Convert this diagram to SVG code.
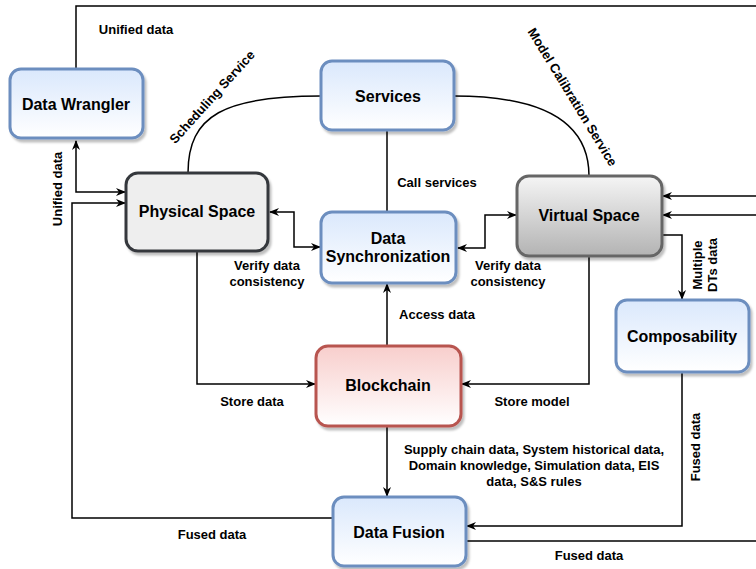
<svg xmlns="http://www.w3.org/2000/svg" width="756" height="569" viewBox="0 0 756 569">
<style>
.n{stroke-width:3}
.blue{fill:url(#gBlue);stroke:#6c8ebf}
.phys{fill:#eeeeee;stroke:#36393d}
.virt{fill:url(#gGray);stroke:#666666}
.red{fill:url(#gRed);stroke:#b85450}
.nt{font-family:"Liberation Sans",Arial,sans-serif;font-weight:bold;font-size:16px;fill:#000;text-anchor:middle}
.lt{font-family:"Liberation Sans",Arial,sans-serif;font-weight:bold;font-size:13px;fill:#000;text-anchor:middle}
.c{fill:none;stroke:#000;stroke-width:1.5}
.a{marker-end:url(#arr)}
.b{marker-start:url(#arrS);marker-end:url(#arr)}
</style>
<defs>
<linearGradient id="gBlue" x1="0" y1="0" x2="0" y2="1"><stop offset="0" stop-color="#dae8fc"/><stop offset="1" stop-color="#ffffff"/></linearGradient>
<linearGradient id="gGray" x1="0" y1="0" x2="0" y2="1"><stop offset="0" stop-color="#f5f5f5"/><stop offset="1" stop-color="#b3b3b3"/></linearGradient>
<linearGradient id="gRed" x1="0" y1="0" x2="0" y2="1"><stop offset="0" stop-color="#f8cecc"/><stop offset="1" stop-color="#ffffff"/></linearGradient>
<filter id="sh" x="-10%" y="-10%" width="130%" height="130%"><feDropShadow dx="2" dy="3" stdDeviation="1.2" flood-color="#000" flood-opacity="0.25"/></filter>
<marker id="arr" viewBox="0 0 10 8" refX="9" refY="4" markerWidth="10" markerHeight="8" markerUnits="userSpaceOnUse" orient="auto"><path d="M0,0 L10,4 L0,8 L3,4 Z" fill="#000"/></marker>
<marker id="arrS" viewBox="0 0 10 8" refX="1" refY="4" markerWidth="10" markerHeight="8" markerUnits="userSpaceOnUse" orient="auto"><path d="M10,0 L0,4 L10,8 L7,4 Z" fill="#000"/></marker>
</defs>
<rect width="756" height="569" fill="#fff"/>
<g id="connectors">
<polyline class="c" points="76,69 76,6 756,6"/>
<polyline class="c b" points="76,141 76,192 125,192"/>
<polyline class="c a" points="333,518 72,518 72,203 125,203"/>
<path class="c" d="M188,173 C188,115 225,96 321,96"/>
<path class="c" d="M454,96 C540,96 589,120 589,176"/>
<line class="c" x1="387" y1="131" x2="387" y2="212"/>
<polyline class="c b" points="270,212 294,212 294,247 320,247"/>
<polyline class="c b" points="458,248 485,248 485,215 516,215"/>
<line class="c a" x1="387" y1="346" x2="387" y2="284"/>
<polyline class="c a" points="197,251 197,384 315,384"/>
<polyline class="c a" points="589,256 589,384 462,384"/>
<line class="c a" x1="387" y1="426" x2="387" y2="496"/>
<polyline class="c a" points="662,235 682,235 682,299"/>
<polyline class="c a" points="682,372 682,526 467,526"/>
<line class="c" x1="466" y1="541" x2="756" y2="541"/>
<line class="c a" x1="756" y1="196" x2="663" y2="196"/>
<line class="c a" x1="756" y1="215" x2="663" y2="215"/>
<text class="lt" x="136" y="34">Unified data</text>
<text class="lt" transform="translate(57,189) rotate(-90)" x="0" y="4.5">Unified data</text>
<text class="lt" transform="translate(212,97) rotate(-48)" x="0" y="4.5">Scheduling Service</text>
<text class="lt" transform="translate(572.5,97) rotate(58.7)" x="0" y="4.5">Model Calibration Service</text>
<text class="lt" x="437" y="187">Call services</text>
<text class="lt" x="267" y="270">Verify data</text>
<text class="lt" x="267" y="286">consistency</text>
<text class="lt" x="508" y="270">Verify data</text>
<text class="lt" x="508" y="286">consistency</text>
<text class="lt" x="437" y="319">Access data</text>
<text class="lt" transform="translate(704.5,265) rotate(-90)"><tspan x="0" y="-3">Multiple</tspan><tspan x="0" y="12">DTs data</tspan></text>
<text class="lt" x="252" y="406">Store data</text>
<text class="lt" x="532" y="406">Store model</text>
<text class="lt" x="534" y="454">Supply chain data, System historical data,</text>
<text class="lt" x="534" y="470">Domain knowledge, Simulation data, EIS</text>
<text class="lt" x="534" y="486">data, S&amp;S rules</text>
<text class="lt" transform="translate(695,447) rotate(-90)" x="0" y="4.5">Fused data</text>
<text class="lt" x="212" y="539">Fused data</text>
<text class="lt" x="589" y="560">Fused data</text>
</g>
<g id="data-wrangler"><rect class="n blue" filter="url(#sh)" x="10" y="69" width="133" height="69" rx="11"/><text class="nt" x="76" y="110">Data Wrangler</text></g>
<g id="services"><rect class="n blue" filter="url(#sh)" x="321" y="61" width="133" height="69" rx="11"/><text class="nt" x="388" y="102">Services</text></g>
<g id="physical-space"><rect class="n phys" filter="url(#sh)" x="126" y="173" width="142" height="78" rx="12"/><text class="nt" x="197" y="217">Physical Space</text></g>
<g id="data-synchronization"><rect class="n blue" filter="url(#sh)" x="321" y="212" width="135" height="71" rx="11"/><text class="nt" x="388" y="244">Data</text><text class="nt" x="388" y="262">Synchronization</text></g>
<g id="virtual-space"><rect class="n virt" filter="url(#sh)" x="517" y="176" width="145" height="80" rx="12"/><text class="nt" x="589" y="221">Virtual Space</text></g>
<g id="composability"><rect class="n blue" filter="url(#sh)" x="616" y="300" width="133" height="72" rx="11"/><text class="nt" x="682" y="342">Composability</text></g>
<g id="blockchain"><rect class="n red" filter="url(#sh)" x="316" y="346" width="145" height="80" rx="12"/><text class="nt" x="388" y="391">Blockchain</text></g>
<g id="data-fusion"><rect class="n blue" filter="url(#sh)" x="333" y="497" width="133" height="69" rx="11"/><text class="nt" x="399" y="538">Data Fusion</text></g>
</svg>
